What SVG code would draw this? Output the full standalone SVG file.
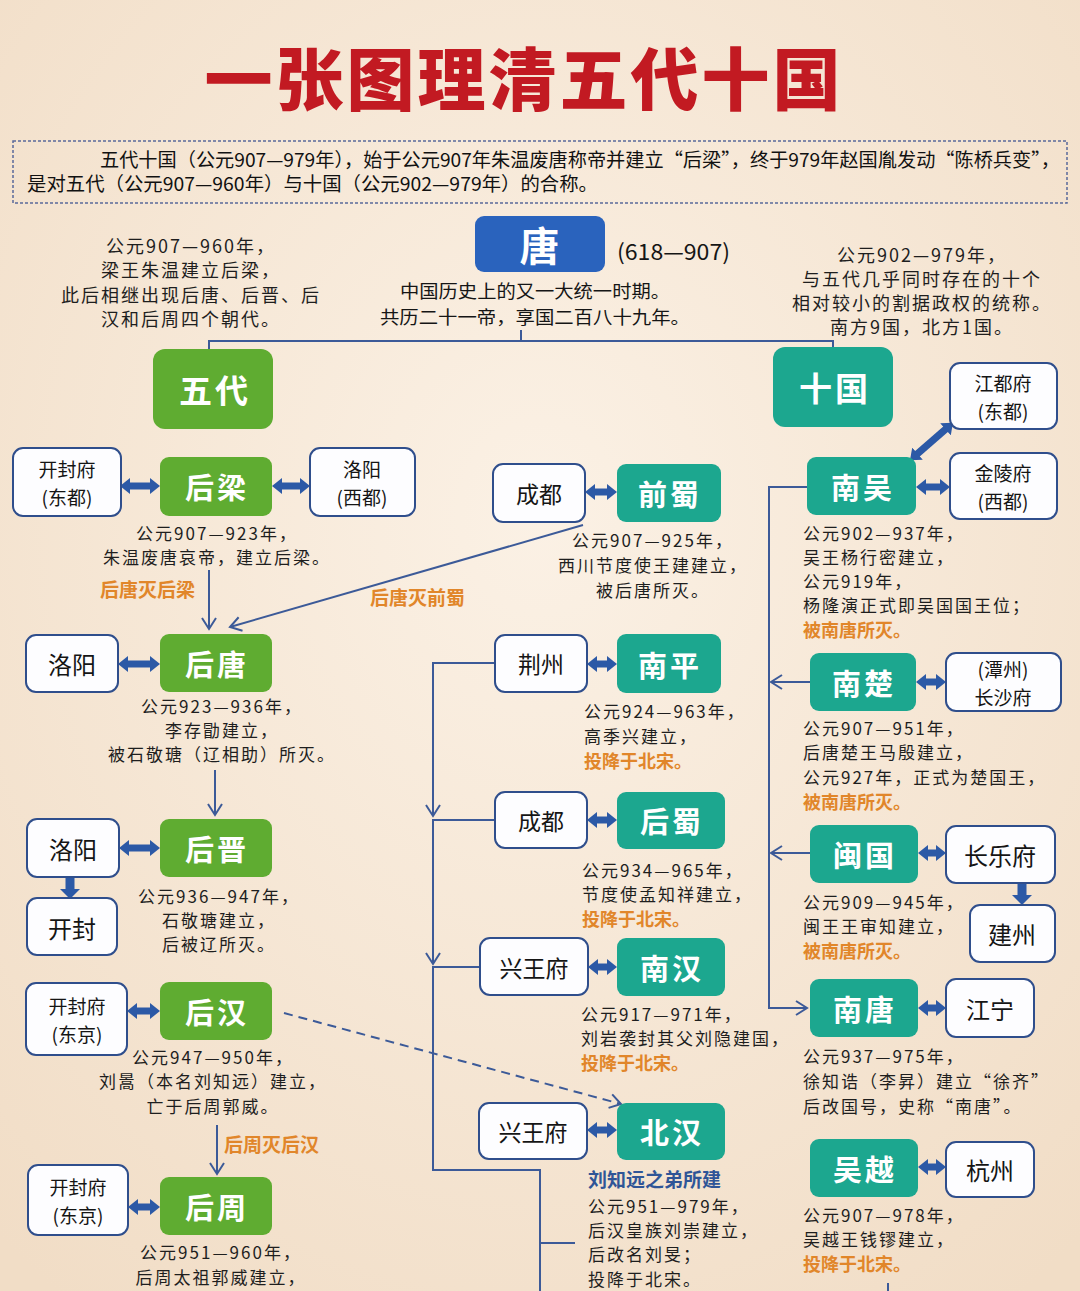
<svg xmlns="http://www.w3.org/2000/svg" width="1080" height="1291" viewBox="0 0 1080 1291">
<defs>
<radialGradient id="bg" cx="50%" cy="40%" r="75%">
<stop offset="0" stop-color="#FBF1E5"/>
<stop offset="1" stop-color="#F1DDC6"/>
</radialGradient>
<marker id="dh" markerUnits="userSpaceOnUse" markerWidth="11" markerHeight="16" refX="2" refY="8" orient="auto-start-reverse" viewBox="0 0 11 16"><path d="M0,0 L10,8 L0,16 z" fill="#2C59A6"/></marker>
<marker id="dh2" markerUnits="userSpaceOnUse" markerWidth="11" markerHeight="20" refX="2" refY="10" orient="auto" viewBox="0 0 11 20"><path d="M0,0 L10,10 L0,20 z" fill="#2C59A6"/></marker>
<marker id="open" markerUnits="userSpaceOnUse" markerWidth="14" markerHeight="16" refX="12" refY="8" orient="auto" viewBox="0 0 14 16"><path d="M1,1 L12,8 L1,15" fill="none" stroke="#3C5A98" stroke-width="2"/></marker>
<style>
text{font-family:"Noto Sans CJK SC","Noto Sans",sans-serif}
.wbox{fill:#FDFDFF;stroke:#2F4E8C;stroke-width:2}
.gbox{fill:#5FAC31}
.tbox{fill:#1CA78F}
.bbox{fill:#2A63BD}
.lbl{font-weight:700;fill:#FFFFFF;font-size:29px;text-anchor:middle;dominant-baseline:central;letter-spacing:3px}
.big{font-size:33px}
.city{font-size:23px;fill:#151515;text-anchor:middle;dominant-baseline:central}
.c2{font-size:19px}
.ds{font-size:17px;fill:#1E1E1E;letter-spacing:2px}
.mid{text-anchor:middle}
.top{font-size:18px}
.org{fill:#E1862A;font-weight:700;font-size:18px;letter-spacing:0}
.org2{font-size:19px}
.blu{fill:#2F5597;font-weight:700;font-size:19px;letter-spacing:0}
.dbl{stroke:#2C59A6;stroke-width:7;fill:none;marker-start:url(#dh);marker-end:url(#dh)}
.dn{stroke:#2C59A6;stroke-width:9;fill:none;marker-end:url(#dh2)}
.conn{fill:none;stroke:#3C5A98;stroke-width:2}
.arr{marker-end:url(#open)}
</style>
</defs>
<rect x="0" y="0" width="1080" height="1291" fill="url(#bg)"/>

<g id="title">
<text x="524" y="75" font-size="68" font-weight="900" fill="#C21A22" text-anchor="middle" dominant-baseline="central" letter-spacing="3">一张图理清五代十国</text>
</g>

<g id="intro">
<rect x="13" y="141" width="1054" height="62" fill="none" stroke="#5A6A9A" stroke-width="1.5" stroke-dasharray="3,2"/>
<text x="100" y="167" font-size="19" fill="#111" textLength="960" lengthAdjust="spacingAndGlyphs">五代十国（公元907—979年），始于公元907年朱温废唐称帝并建立“后梁”，终于979年赵国胤发动“陈桥兵变”，</text>
<text x="27" y="191" font-size="19" fill="#111" textLength="571" lengthAdjust="spacingAndGlyphs">是对五代（公元907—960年）与十国（公元902—979年）的合称。</text>
</g>

<g id="connectors">
<path class="conn" d="M209,349 V341 H833 V347 M521,330 V341"/>
<path class="conn arr" d="M209,570 V629"/>
<path class="conn arr" d="M215,770 V815"/>
<path class="conn arr" d="M217,1125 V1174"/>
<path class="conn arr" d="M583,525 L230,627"/>
<path class="conn arr" d="M284,1013 L621,1104" stroke-dasharray="9,6"/>
<path class="conn arr" d="M495,663 H433 V816"/>
<path class="conn arr" d="M495,820 H433 V964"/>
<path class="conn" d="M480,967 H433 V1170 H540 V1291 M540,1243 H575"/>
<path class="conn arr" d="M807,487 H769 V1008 H807"/>
<path class="conn arr" d="M810,682 H771"/>
<path class="conn arr" d="M810,853 H771"/>
<path class="conn" d="M888,1283 V1291"/>
<line class="dbl" x1="128" y1="486" x2="152" y2="486"/>
<line class="dbl" x1="280" y1="486" x2="302" y2="486"/>
<line class="dbl" x1="126" y1="664" x2="152" y2="664"/>
<line class="dbl" x1="127" y1="848" x2="152" y2="848"/>
<line class="dbl" x1="135" y1="1011" x2="152" y2="1011"/>
<line class="dbl" x1="136" y1="1207" x2="152" y2="1207"/>
<line class="dbl" x1="593" y1="492" x2="609" y2="492"/>
<line class="dbl" x1="595" y1="664" x2="609" y2="664"/>
<line class="dbl" x1="595" y1="820" x2="609" y2="820"/>
<line class="dbl" x1="596" y1="967" x2="609" y2="967"/>
<line class="dbl" x1="595" y1="1130" x2="609" y2="1130"/>
<line class="dbl" x1="924" y1="487" x2="942" y2="487"/>
<line class="dbl" x1="924" y1="682" x2="938" y2="682"/>
<line class="dbl" x1="926" y1="853" x2="938" y2="853"/>
<line class="dbl" x1="926" y1="1008" x2="938" y2="1008"/>
<line class="dbl" x1="926" y1="1167" x2="938" y2="1167"/>
<line class="dbl" x1="916" y1="455" x2="947" y2="428"/>
<line class="dn" x1="70" y1="877" x2="70" y2="891"/>
<line class="dn" x1="1022" y1="883" x2="1022" y2="897"/>
</g>

<g id="tang">
<rect class="bbox" x="475" y="216" width="130" height="56" rx="9"/>
<text class="lbl" x="541" y="244" style="font-size:40px">唐</text>
<text x="617" y="260" font-size="22" fill="#151515" textLength="113" lengthAdjust="spacingAndGlyphs">(618—907)</text>
<text class="mid" x="535" y="298" font-size="18" fill="#151515" textLength="270" lengthAdjust="spacingAndGlyphs">中国历史上的又一大统一时期。</text>
<text class="mid" x="535" y="324" font-size="18" fill="#151515" textLength="310" lengthAdjust="spacingAndGlyphs">共历二十一帝，享国二百八十九年。</text>
</g>

<g id="wudai-note">
<text class="ds top mid" x="191" y="253">公元907—960年，</text>
<text class="ds top mid" x="191" y="277">梁王朱温建立后梁，</text>
<text class="ds top mid" x="191" y="302">此后相继出现后唐、后晋、后</text>
<text class="ds top mid" x="191" y="326">汉和后周四个朝代。</text>
</g>
<g id="shiguo-note">
<text class="ds top mid" x="922" y="262">公元902—979年，</text>
<text class="ds top mid" x="922" y="286">与五代几乎同时存在的十个</text>
<text class="ds top mid" x="922" y="310">相对较小的割据政权的统称。</text>
<text class="ds top mid" x="922" y="334">南方9国，北方1国。</text>
</g>

<g id="wudai">
<rect class="gbox" x="153" y="349" width="120" height="80" rx="12"/>
<text class="lbl big" x="215" y="389">五代</text>
</g>
<g id="shiguo">
<rect class="tbox" x="773" y="347" width="120" height="80" rx="12"/>
<text class="lbl big" x="835" y="387">十国</text>
</g>

<g id="houliang">
<rect class="gbox" x="160" y="457" width="112" height="59" rx="9"/>
<text class="lbl" x="217" y="486">后梁</text>
<text class="ds mid" x="217" y="540">公元907—923年，</text>
<text class="ds mid" x="217" y="564">朱温废唐哀帝，建立后梁。</text>
<text class="org org2" x="100" y="597">后唐灭后梁</text>
</g>
<g id="kaifeng1">
<rect class="wbox" x="13" y="448" width="108" height="68" rx="10"/>
<text class="city c2" x="67" y="468">开封府</text>
<text class="city c2" x="67" y="496">(东都)</text>
</g>
<g id="luoyang1">
<rect class="wbox" x="310" y="448" width="105" height="68" rx="10"/>
<text class="city c2" x="362" y="468">洛阳</text>
<text class="city c2" x="362" y="496">(西都)</text>
</g>
<text class="org org2" x="370" y="605">后唐灭前蜀</text>

<g id="houtang">
<rect class="gbox" x="160" y="634" width="112" height="58" rx="9"/>
<text class="lbl" x="217" y="663">后唐</text>
<text class="ds mid" x="222" y="713">公元923—936年，</text>
<text class="ds mid" x="222" y="737">李存勖建立，</text>
<text class="ds mid" x="222" y="761">被石敬瑭（辽相助）所灭。</text>
</g>
<g id="luoyang2">
<rect class="wbox" x="26" y="635" width="92" height="57" rx="10"/>
<text class="city" x="72" y="663" style="font-size:24px">洛阳</text>
</g>

<g id="houjin">
<rect class="gbox" x="160" y="819" width="112" height="58" rx="9"/>
<text class="lbl" x="217" y="848">后晋</text>
<text class="ds mid" x="219" y="903">公元936—947年，</text>
<text class="ds mid" x="219" y="927">石敬瑭建立，</text>
<text class="ds mid" x="219" y="951">后被辽所灭。</text>
</g>
<g id="luoyang3">
<rect class="wbox" x="27" y="819" width="92" height="58" rx="10"/>
<text class="city" x="73" y="848" style="font-size:24px">洛阳</text>
</g>
<g id="kaifeng2">
<rect class="wbox" x="27" y="898" width="90" height="57" rx="10"/>
<text class="city" x="72" y="927" style="font-size:24px">开封</text>
</g>

<g id="houhan">
<rect class="gbox" x="160" y="982" width="112" height="58" rx="9"/>
<text class="lbl" x="217" y="1011">后汉</text>
<text class="ds mid" x="213" y="1064">公元947—950年，</text>
<text class="ds mid" x="213" y="1088">刘暠（本名刘知远）建立，</text>
<text class="ds mid" x="213" y="1113">亡于后周郭威。</text>
<text class="org org2" x="224" y="1152">后周灭后汉</text>
</g>
<g id="kaifeng3">
<rect class="wbox" x="26" y="983" width="101" height="72" rx="10"/>
<text class="city c2" x="77" y="1005">开封府</text>
<text class="city c2" x="77" y="1033">(东京)</text>
</g>

<g id="houzhou">
<rect class="gbox" x="160" y="1177" width="112" height="58" rx="9"/>
<text class="lbl" x="217" y="1206">后周</text>
<text class="ds mid" x="221" y="1259">公元951—960年，</text>
<text class="ds mid" x="221" y="1284">后周太祖郭威建立，</text>
</g>
<g id="kaifeng4">
<rect class="wbox" x="28" y="1165" width="100" height="70" rx="10"/>
<text class="city c2" x="78" y="1186">开封府</text>
<text class="city c2" x="78" y="1214">(东京)</text>
</g>

<g id="qianshu">
<rect class="tbox" x="617" y="464" width="104" height="58" rx="9"/>
<text class="lbl" x="670" y="493">前蜀</text>
<text class="ds mid" x="653" y="547">公元907—925年，</text>
<text class="ds mid" x="653" y="572">西川节度使王建建立，</text>
<text class="ds mid" x="653" y="597">被后唐所灭。</text>
</g>
<g id="chengdu1">
<rect class="wbox" x="493" y="464" width="92" height="58" rx="10"/>
<text class="city" x="539" y="493">成都</text>
</g>

<g id="nanping">
<rect class="tbox" x="617" y="634" width="104" height="59" rx="9"/>
<text class="lbl" x="670" y="664">南平</text>
<text class="ds" x="584" y="718">公元924—963年，</text>
<text class="ds" x="584" y="743">高季兴建立，</text>
<text class="org" x="584" y="768">投降于北宋。</text>
</g>
<g id="jingzhou">
<rect class="wbox" x="495" y="635" width="92" height="57" rx="10"/>
<text class="city" x="541" y="663">荆州</text>
</g>

<g id="houshu">
<rect class="tbox" x="617" y="792" width="108" height="57" rx="9"/>
<text class="lbl" x="672" y="820">后蜀</text>
<text class="ds" x="582" y="877">公元934—965年，</text>
<text class="ds" x="582" y="901">节度使孟知祥建立，</text>
<text class="org" x="582" y="926">投降于北宋。</text>
</g>
<g id="chengdu2">
<rect class="wbox" x="495" y="792" width="92" height="56" rx="10"/>
<text class="city" x="541" y="820">成都</text>
</g>

<g id="nanhan">
<rect class="tbox" x="617" y="938" width="108" height="58" rx="9"/>
<text class="lbl" x="672" y="967">南汉</text>
<text class="ds" x="581" y="1021">公元917—971年，</text>
<text class="ds" x="581" y="1045">刘岩袭封其父刘隐建国，</text>
<text class="org" x="581" y="1070">投降于北宋。</text>
</g>
<g id="xingwang1">
<rect class="wbox" x="480" y="938" width="108" height="57" rx="10"/>
<text class="city" x="534" y="967">兴王府</text>
</g>

<g id="beihan">
<rect class="tbox" x="617" y="1103" width="108" height="57" rx="9"/>
<text class="lbl" x="672" y="1131">北汉</text>
<text class="blu" x="588" y="1187">刘知远之弟所建</text>
<text class="ds" x="588" y="1213">公元951—979年，</text>
<text class="ds" x="588" y="1237">后汉皇族刘崇建立，</text>
<text class="ds" x="588" y="1261">后改名刘旻；</text>
<text class="ds" x="588" y="1286">投降于北宋。</text>
</g>
<g id="xingwang2">
<rect class="wbox" x="479" y="1103" width="108" height="56" rx="10"/>
<text class="city" x="533" y="1131">兴王府</text>
</g>

<g id="nanwu">
<rect class="tbox" x="807" y="457" width="109" height="58" rx="9"/>
<text class="lbl" x="863" y="486">南吴</text>
<text class="ds" x="803" y="540">公元902—937年，</text>
<text class="ds" x="803" y="564">吴王杨行密建立，</text>
<text class="ds" x="803" y="588">公元919年，</text>
<text class="ds" x="803" y="612">杨隆演正式即吴国国王位；</text>
<text class="org" x="803" y="637">被南唐所灭。</text>
</g>
<g id="jiangdu">
<rect class="wbox" x="950" y="363" width="107" height="66" rx="10"/>
<text class="city c2" x="1003" y="382">江都府</text>
<text class="city c2" x="1003" y="410">(东都)</text>
</g>
<g id="jinling">
<rect class="wbox" x="950" y="453" width="107" height="66" rx="10"/>
<text class="city c2" x="1003" y="472">金陵府</text>
<text class="city c2" x="1003" y="500">(西都)</text>
</g>

<g id="nanchu">
<rect class="tbox" x="810" y="653" width="106" height="58" rx="9"/>
<text class="lbl" x="864" y="682">南楚</text>
<text class="ds" x="803" y="735">公元907—951年，</text>
<text class="ds" x="803" y="759">后唐楚王马殷建立，</text>
<text class="ds" x="803" y="784">公元927年，正式为楚国王，</text>
<text class="org" x="803" y="809">被南唐所灭。</text>
</g>
<g id="changsha">
<rect class="wbox" x="946" y="653" width="115" height="58" rx="10"/>
<text class="city c2" x="1003" y="668">(潭州)</text>
<text class="city c2" x="1003" y="696">长沙府</text>
</g>

<g id="minguo">
<rect class="tbox" x="810" y="825" width="108" height="58" rx="9"/>
<text class="lbl" x="865" y="854">闽国</text>
<text class="ds" x="803" y="909">公元909—945年，</text>
<text class="ds" x="803" y="933">闽王王审知建立，</text>
<text class="org" x="803" y="958">被南唐所灭。</text>
</g>
<g id="changle">
<rect class="wbox" x="946" y="826" width="109" height="57" rx="10"/>
<text class="city" x="1000" y="854" style="font-size:24px">长乐府</text>
</g>
<g id="jianzhou">
<rect class="wbox" x="970" y="905" width="85" height="57" rx="10"/>
<text class="city" x="1012" y="933" style="font-size:24px">建州</text>
</g>

<g id="nantang">
<rect class="tbox" x="810" y="979" width="108" height="58" rx="9"/>
<text class="lbl" x="865" y="1008">南唐</text>
<text class="ds" x="803" y="1063">公元937—975年，</text>
<text class="ds" x="803" y="1088">徐知诰（李昇）建立“徐齐”</text>
<text class="ds" x="803" y="1113">后改国号，史称“南唐”。</text>
</g>
<g id="jiangning">
<rect class="wbox" x="946" y="979" width="88" height="58" rx="10"/>
<text class="city" x="990" y="1008" style="font-size:24px">江宁</text>
</g>

<g id="wuyue">
<rect class="tbox" x="810" y="1139" width="108" height="58" rx="9"/>
<text class="lbl" x="865" y="1168">吴越</text>
<text class="ds" x="803" y="1222">公元907—978年，</text>
<text class="ds" x="803" y="1246">吴越王钱镠建立，</text>
<text class="org" x="803" y="1271">投降于北宋。</text>
</g>
<g id="hangzhou">
<rect class="wbox" x="946" y="1142" width="88" height="55" rx="10"/>
<text class="city" x="990" y="1169" style="font-size:24px">杭州</text>
</g>
</svg>
